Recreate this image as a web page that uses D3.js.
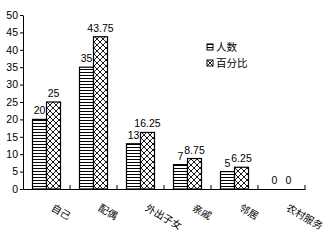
<!DOCTYPE html>
<html>
<head>
<meta charset="utf-8">
<script src="https://cdn.jsdelivr.net/npm/d3@7"></script>
<style>
  body { margin: 0; background: #fff; }
  text { font-family: "Liberation Sans", "Noto Sans CJK SC", sans-serif; fill: #000; }
</style>
</head>
<body>
<script>
// categories and the two series
var categories = ["自己", "配偶", "外出子女", "亲戚", "邻居", "农村服务"];
var seriesNames = ["人数", "百分比"];
var counts = [20, 35, 13, 7, 5, 0];
var percents = [25, 43.75, 16.25, 8.75, 6.25, 0];
var yTicks = [0, 5, 10, 15, 20, 25, 30, 35, 40, 45, 50];

(function() {
var W = 333, H = 240;
var plotL = 23, plotR = 305, plotT = 15, plotB = 189;

var svg = d3.select("body").append("svg")
    .attr("width", W)
    .attr("height", H);

// fill patterns
var defs = svg.append("defs");
var stripe = defs.append("pattern")
    .attr("id", "stripe")
    .attr("patternUnits", "userSpaceOnUse")
    .attr("width", 4).attr("height", 3);
stripe.append("rect").attr("width", 4).attr("height", 3).attr("fill", "#fff");
stripe.append("rect").attr("y", 0).attr("width", 4).attr("height", 1).attr("fill", "#000");

var cross = defs.append("pattern")
    .attr("id", "cross")
    .attr("patternUnits", "userSpaceOnUse")
    .attr("width", 6).attr("height", 6);
cross.append("rect").attr("width", 6).attr("height", 6).attr("fill", "#fff");
cross.append("path").attr("d", "M0,0L6,6M6,0L0,6")
    .attr("stroke", "#000").attr("stroke-width", 0.9).attr("fill", "none");

var fills = ["url(#stripe)", "url(#cross)"];

var x = d3.scaleBand().domain(categories).range([plotL, plotR]);
var sub = d3.scaleBand().domain(seriesNames).range([9.5, 37.5]);
var y = d3.scaleLinear().domain([0, 50]).range([plotB, plotT]);

var rows = categories.map(function(c, i) {
  return { cat: c, vals: [counts[i], percents[i]] };
});

// bars
var groups = svg.selectAll(".grp")
    .data(rows)
    .enter().append("g")
    .attr("class", "grp")
    .attr("transform", function(d) { return "translate(" + x(d.cat) + ",0)"; });

groups.selectAll("rect")
    .data(function(d) { return d.vals.map(function(v, j) { return { s: seriesNames[j], v: v, j: j }; }).filter(function(e) { return e.v > 0; }); })
    .enter().append("rect")
    .attr("x", function(d) { return sub(d.s); })
    .attr("y", function(d) { return y(d.v); })
    .attr("width", sub.bandwidth())
    .attr("height", function(d) { return y(0) - y(d.v); })
    .attr("fill", function(d) { return fills[d.j]; })
    .attr("stroke", "#000")
    .attr("stroke-width", 1.2);

// value labels
groups.selectAll(".val")
    .data(function(d) { return d.vals.map(function(v, j) { return { s: seriesNames[j], v: v }; }); })
    .enter().append("text")
    .attr("class", "val")
    .attr("x", function(d) { return sub(d.s) + sub.bandwidth() / 2; })
    .attr("y", function(d) { return y(d.v) - 5; })
    .attr("text-anchor", "middle")
    .style("font-size", "10.5px")
    .text(function(d) { return d.v; });

// y axis
var yAxis = svg.append("g")
    .attr("transform", "translate(" + plotL + ",0)")
    .call(d3.axisLeft(y).tickValues(yTicks).tickSize(3).tickSizeOuter(0).tickPadding(2));
yAxis.select(".domain").attr("stroke", "#000");
yAxis.selectAll("text").style("font-size", "10.5px").attr("fill", "#000");

// x axis
var xAxis = svg.append("g")
    .attr("transform", "translate(0," + plotB + ")")
    .call(d3.axisBottom(x).tickSize(0).tickSizeOuter(0).tickFormat(""));
xAxis.select(".domain").attr("stroke", "#000");
xAxis.selectAll(".tick").remove();
// category boundary ticks
svg.selectAll(".xtick")
    .data(categories)
    .enter().append("line")
    .attr("x1", function(d) { return x(d) + x.bandwidth(); })
    .attr("x2", function(d) { return x(d) + x.bandwidth(); })
    .attr("y1", plotB)
    .attr("y2", plotB - 4)
    .attr("stroke", "#000");

// rotated category labels
svg.selectAll(".xlab")
    .data(categories)
    .enter().append("text")
    .attr("class", "xlab")
    .attr("transform", function(d) {
      return "translate(" + (x(d) + x.bandwidth() / 2 + 4) + ",210) rotate(30)";
    })
    .style("font-size", "10px")
    .text(function(d) { return d; });

// legend
var legend = svg.selectAll(".leg")
    .data(seriesNames)
    .enter().append("g")
    .attr("class", "leg")
    .attr("transform", function(d, i) { return "translate(207," + (44 + i * 16) + ")"; });
legend.append("rect")
    .attr("width", 6).attr("height", 6)
    .attr("fill", function(d, i) { return fills[i]; })
    .attr("stroke", "#000");
legend.append("text")
    .attr("x", 9).attr("y", 7)
    .style("font-size", "10.5px")
    .text(function(d) { return d; });
})();
</script>
</body>
</html>
